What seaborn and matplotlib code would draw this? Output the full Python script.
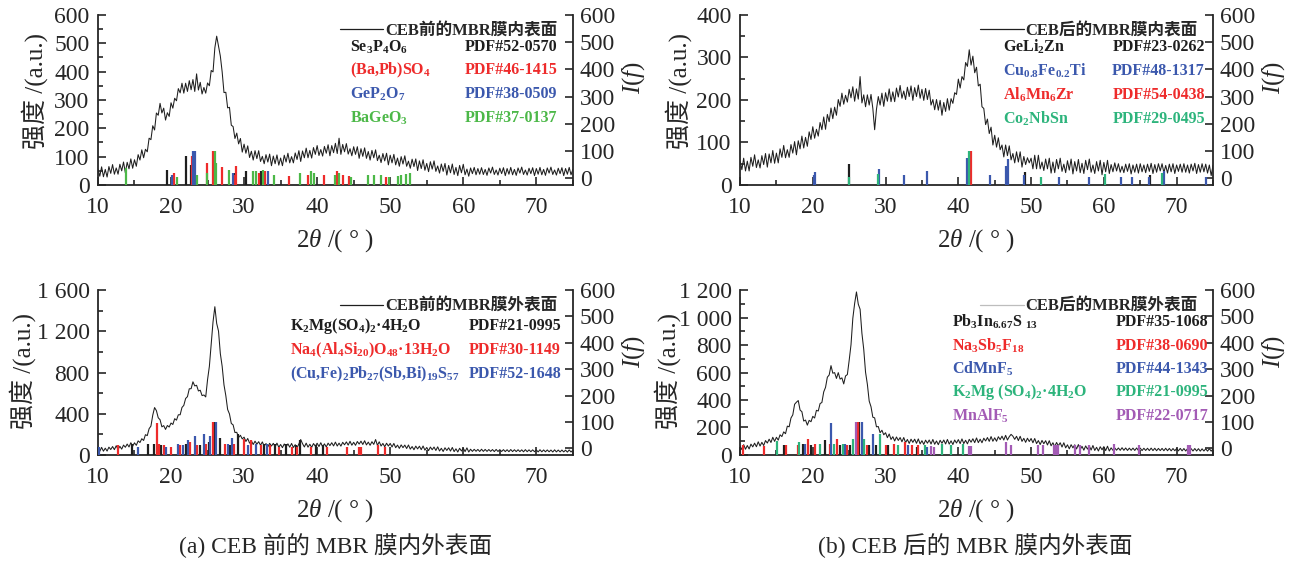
import numpy as np
import matplotlib
matplotlib.use('Agg')
import matplotlib.pyplot as plt
from matplotlib.lines import Line2D
from matplotlib.ticker import MultipleLocator, FuncFormatter
import seaborn as sns

# 2theta grid of the scans (deg)
two_theta = np.arange(10, 75.001, 0.25)

# intensities, one row per degree (x.00 x.25 x.50 x.75)
inner_before = [
    56, 31, 64, 29,  55, 28, 65, 41,  72, 38, 60, 38,  73, 50, 81, 43,
    80, 57, 92, 59,  89, 66, 107, 88,  124, 96, 126, 117,  165, 160, 209, 194,
    254, 246, 288, 254,  271, 229, 255, 242,  290, 271, 306, 297,  340, 325, 359, 324,
    359, 330, 368, 336,  372, 330, 392, 335,  362, 321, 344, 324,  360, 350, 404, 399,
    484, 525, 490, 455,  399, 326, 327, 272,  274, 211, 206, 164,  183, 145, 164, 116,
    144, 112, 138, 97,  119, 88, 121, 93,  121, 83, 101, 75,  107, 81, 109, 68,
    102, 75, 106, 70,  95, 68, 105, 81,  112, 78, 100, 78,  113, 90, 121, 83,
    120, 96, 130, 96,  122, 95, 132, 108,  139, 104, 125, 102,  136, 112, 142, 103,
    139, 114, 147, 111,  165, 108, 143, 117,  146, 109, 128, 103,  135, 108, 135, 94,
    128, 101, 131, 94,  118, 88, 122, 96,  124, 86, 105, 79,  111, 85, 112, 71,
    105, 78, 108, 71,  95, 66, 100, 74,  103, 66, 84, 59,  91, 65, 92, 51,
    85, 58, 89, 52,  76, 47, 82, 56,  85, 48, 67, 42,  74, 48, 76, 35,
    69, 43, 74, 37,  62, 33, 69, 43,  73, 36, 56, 31,  60, 40, 62, 36,
    58, 38, 61, 37,  55, 34, 60, 42,  63, 37, 53, 35,  59, 40, 61, 33,
    58, 38, 62, 36,  55, 34, 60, 42,  63, 37, 53, 35,  59, 40, 61, 33,
    58, 38, 62, 36,  55, 34, 60, 42,  63, 37, 53, 35,  59, 40, 61, 33,
    58, 38, 62, 36,  55]

inner_after = [
    57, 36, 63, 33,  56, 33, 65, 44,  71, 41, 59, 40,  69, 48, 74, 42,
    73, 52, 81, 51,  75, 52, 85, 65,  93, 64, 83, 65,  95, 75, 102, 71,
    104, 85, 115, 87,  112, 91, 125, 107,  137, 110, 131, 115,  147, 130, 160, 131,
    166, 149, 181, 156,  183, 164, 201, 185,  216, 190, 211, 195,  225, 205, 231, 197,
    226, 202, 255, 193,  212, 184, 212, 188,  213, 180, 130, 178,  208, 188, 216, 185,
    217, 197, 226, 196,  219, 196, 228, 207,  234, 204, 221, 201,  230, 208, 233, 199,
    229, 208, 235, 204,  225, 199, 227, 201,  223, 188, 201, 177,  201, 176, 199, 164,
    194, 173, 203, 176,  203, 192, 217, 213,  249, 228, 255, 247,  288, 279, 318, 282,
    303, 264, 277, 233,  237, 184, 180, 142,  155, 121, 136, 94,  117, 89, 111, 83,
    94, 66, 94, 69,  92, 59, 74, 52,  78, 54, 78, 42,  67, 48, 64, 52,
    63, 38, 70, 38,  70, 38, 54, 34,  61, 38, 63, 28,  54, 29, 60, 38,
    63, 32, 49, 29,  57, 35, 61, 26,  55, 33, 60, 29,  51, 27, 58, 36,
    61, 30, 47, 27,  55, 33, 58, 24,  53, 31, 58, 27,  48, 31, 52, 33,
    50, 30, 44, 29,  49, 32, 50, 26,  47, 30, 49, 28,  50, 31, 47, 29,
    49, 32, 51, 27,  48, 30, 50, 33,  50, 29, 46, 28,  49, 31, 50, 27,
    47, 32, 49, 30,  50, 30, 47, 28,  49, 33, 51, 27,  48, 30, 50, 31,
    49, 28, 47, 22,  46]

outer_before = [
    66, 36, 74, 37,  66, 38, 76, 53,  82, 52, 90, 54,  84, 57, 96, 75,
    106, 78, 119, 85,  118, 94, 137, 121,  158, 141, 197, 188,  255, 280, 386, 460,
    430, 361, 342, 273,  285, 248, 286, 271,  310, 296, 352, 338,  390, 390, 461, 481,
    548, 566, 642, 643,  710, 670, 676, 621,  628, 576, 582, 563,  730, 860, 1076, 1291,
    1438, 1276, 1202, 983,  860, 680, 576, 441,  398, 306, 292, 218,  220, 170, 191, 156,
    173, 131, 160, 115,  137, 102, 134, 105,  129, 94, 127, 86,  111, 79, 113, 87,
    113, 80, 115, 75,  102, 71, 107, 81,  108, 76, 112, 73,  100, 70, 107, 150,
    110, 78, 115, 76,  104, 74, 111, 86,  114, 82, 119, 80,  108, 78, 115, 91,
    119, 88, 125, 87,  115, 86, 123, 99,  127, 96, 133, 95,  123, 94, 131, 106,
    134, 102, 138, 98,  125, 94, 129, 103,  150, 94, 128, 87,  112, 80, 114, 87,
    112, 78, 112, 71,  96, 64, 98, 71,  96, 63, 97, 57,  82, 51, 86, 59,
    85, 52, 87, 47,  73, 42, 77, 51,  77, 44, 79, 39,  65, 34, 70, 44,
    70, 38, 73, 33,  60, 29, 65, 39,  66, 33, 69, 29,  56, 35, 55, 36,
    54, 34, 56, 35,  54, 35, 53, 35,  53, 33, 54, 34,  52, 34, 52, 33,
    51, 32, 53, 33,  51, 33, 51, 33,  50, 31, 52, 32,  50, 32, 50, 32,
    49, 30, 51, 31,  49, 31, 49, 31,  48, 29, 50, 30,  48, 30, 48, 30,
    47, 28, 49, 29,  46]

outer_after = [
    66, 39, 75, 42,  69, 44, 79, 59,  86, 60, 96, 65,  92, 69, 105, 87,
    115, 91, 129, 99,  129, 108, 147, 134,  168, 155, 210, 205,  269, 292, 369, 384,
    396, 327, 315, 247,  254, 217, 252, 242,  281, 269, 325, 320,  374, 382, 459, 492,
    566, 582, 650, 595,  599, 557, 599, 552,  561, 517, 575, 585,  689, 802, 994, 1102,
    1186, 1097, 1060, 885,  769, 602, 514, 392,  351, 275, 270, 205,  207, 162, 180, 147,
    162, 126, 153, 113,  133, 102, 131, 106,  127, 96, 127, 90,  113, 84, 115, 92,
    115, 85, 117, 81,  104, 77, 108, 86,  109, 80, 113, 78,  102, 75, 107, 85,
    109, 80, 113, 79,  103, 76, 109, 87,  112, 83, 117, 83,  107, 81, 114, 93,
    118, 90, 124, 90,  115, 89, 122, 102,  127, 99, 134, 100,  125, 100, 133, 112,
    137, 109, 143, 109,  133, 150, 137, 114,  136, 105, 136, 99,  121, 92, 122, 98,
    120, 89, 120, 83,  105, 76, 106, 82,  104, 73, 104, 67,  89, 61, 91, 67,
    89, 58, 89, 52,  74, 45, 75, 52,  74, 44, 76, 40,  63, 35, 66, 43,
    66, 36, 69, 33,  56, 29, 60, 38,  61, 32, 64, 29,  52, 34, 51, 35,
    51, 34, 53, 34,  51, 33, 50, 34,  50, 33, 51, 33,  50, 32, 49, 33,
    49, 32, 50, 32,  49, 31, 48, 32,  48, 31, 49, 31,  48, 30, 47, 31,
    47, 30, 48, 30,  47, 29, 46, 30,  46, 29, 47, 29,  46, 28, 45, 29,
    45, 28, 46, 28,  44]

# reference cards: (positions in 2theta, relative intensity I(f))
se3p4o6 = ([19.5, 22.0, 22.8, 28.7, 30.3, 32.3], [30, 80, 50, 18, 25, 25])
bapbso4 = ([20.4, 22.9, 24.9, 25.8, 27.0, 28.6, 28.9, 32.0, 32.8, 36.2, 38.8, 40.9, 42.7, 43.5, 44.4, 49.4],
           [18, 80, 55, 100, 40, 12, 43, 18, 25, 9, 12, 12, 25, 12, 9, 6])
gep2o7 = ([20.2, 23.05, 23.3, 28.5, 33.3], [12, 100, 100, 20, 25])
bageo3 = ([13.8, 20.8, 23.6, 24.9, 26.0, 26.15, 27.9, 31.2, 31.6, 32.6, 34.1, 37.7, 39.2, 39.6, 42.5, 43.0,
           44.7, 46.9, 47.8, 48.7, 49.9, 51.1, 51.5, 52.2, 52.7],
          [37, 6, 12, 18, 100, 55, 30, 25, 25, 30, 12, 18, 25, 18, 12, 18, 6, 12, 12, 12, 6, 9, 12, 15, 18])

geli2zn = ([25.0, 49.1, 66.3], [51, 22, 12])
cufeti = ([20.2, 20.35, 29.1, 32.6, 35.7, 41.2, 44.3, 46.6, 46.8, 49.0, 53.9, 57.9, 62.4, 63.9, 66.2, 68.3, 74.0],
          [12, 22, 34, 12, 27, 73, 12, 43, 70, 12, 4, 4, 6, 4, 4, 25, 4])
al6mn6zr = ([41.75], [100])
co2nbsn = ([25.0, 29.0, 41.5, 51.3, 60.2, 68.0], [5, 16, 100, 6, 16, 18])

k2mg_a = ([14.7, 16.8, 17.7, 18.6, 22.0, 23.9, 25.2, 25.9, 26.7, 28.1, 29.1, 32.7, 34.2, 35.7, 37.1, 37.6, 39.9, 40.8],
          [18, 18, 18, 12, 18, 12, 24, 100, 39, 12, 55, 18, 18, 18, 12, 30, 12, 12])
na4alsi = ([12.7, 18.1, 18.3, 19.1, 20.0, 21.2, 22.6, 23.5, 24.8, 25.7, 27.4, 28.6, 30.0, 30.9, 32.3, 33.6,
            34.8, 36.5, 37.2, 39.1, 41.3, 44.1, 45.7, 46.0, 48.3, 49.3],
           [12, 95, 18, 12, 6, 12, 24, 12, 18, 100, 18, 18, 37, 30, 12, 12, 6, 6, 6, 6, 6, 6, 6, 6, 12, 6])
cufepb = ([10.2, 15.5, 19.3, 20.9, 21.6, 22.3, 23.3, 24.5, 25.4, 26.1, 27.8, 28.3, 30.6, 31.6, 33.1],
          [6, 6, 6, 18, 12, 30, 46, 55, 46, 100, 18, 39, 12, 18, 18])

pb3in = ([16.0, 18.6, 19.7, 21.7, 23.7, 25.1, 26.4, 27.7, 28.7, 30.4, 34.3],
         [12, 15, 12, 30, 12, 12, 100, 12, 12, 12, 6])
na3sb5f18 = ([10.4, 13.3, 16.3, 17.9, 19.3, 20.3, 22.3, 23.3, 24.7, 26.2, 27.4, 30.0, 31.2, 32.7, 33.7, 34.4],
             [12, 10, 12, 12, 34, 18, 15, 37, 12, 100, 12, 12, 18, 24, 12, 12])
cdmnf5 = ([18.9, 22.5, 24.4, 26.7, 28.3, 33.1, 35.7], [18, 95, 18, 100, 55, 12, 6])
k2mg_b = ([15.1, 18.1, 21.0, 22.9, 24.1, 25.5, 27.0, 29.3, 31.7, 35.4, 37.7, 39.0, 40.7],
          [27, 24, 18, 18, 18, 37, 37, 55, 12, 12, 18, 12, 18])
mnalf5 = ([26.0, 36.3, 36.6, 41.4, 41.7, 46.6, 47.3, 51.0, 51.7, 53.1, 53.4, 53.7, 56.0, 56.7, 58.0, 61.4,
           64.8, 71.6, 71.8],
          [100, 10, 6, 10, 10, 24, 12, 12, 12, 12, 12, 12, 12, 12, 12, 15, 12, 12, 12])

BLACK = '#1e1e1e'
RED = '#ee2b2b'
BLUE = '#3b58ad'
GREEN_A = '#4cb848'
GREEN_B = '#2db47c'
PURPLE = '#a35bb5'

sns.set_style('ticks')
plt.rcParams['font.family'] = ['Liberation Serif', 'Noto Sans CJK SC']
plt.rcParams['mathtext.fontset'] = 'custom'
plt.rcParams['mathtext.rm'] = 'Liberation Serif:bold'
plt.rcParams['mathtext.bf'] = 'Liberation Serif:bold'
plt.rcParams['mathtext.it'] = 'Liberation Serif:italic'

FS = 17
LEG = 11.5
fig = plt.figure(figsize=(12.94, 5.65), dpi=100)


def panel(rect, y, ymax, ymaj, ymin, title, legcolor, phases, name_x, code_x, rows, ylab_xy):
    ax = fig.add_axes(rect)
    sns.lineplot(x=two_theta, y=y, ax=ax, color=BLACK, lw=0.75, estimator=None)
    ax.set_xlim(10, 75)
    ax.set_ylim(0, ymax)
    ax.xaxis.set_major_locator(MultipleLocator(10))
    ax.xaxis.set_minor_locator(MultipleLocator(5))
    ax.yaxis.set_major_locator(MultipleLocator(ymaj))
    ax.yaxis.set_minor_locator(MultipleLocator(ymin))
    ax.yaxis.set_major_formatter(FuncFormatter(lambda v, p: f'{int(v):,}'.replace(',', ' ')))
    ax.tick_params(which='both', direction='in', width=1.2, labelsize=FS)
    ax.tick_params(which='major', length=6)
    ax.tick_params(which='minor', length=3.5)
    ax.tick_params(axis='x', pad=9)
    ax.tick_params(axis='y', pad=6)
    ax.set_xlabel(r'2$\theta$ /( ° )', fontsize=FS + 1, labelpad=6)
    ax.set_ylabel('强度 /(a.u.)', fontsize=FS + 1)
    ax.yaxis.set_label_coords(*ylab_xy)
    for s in ['top', 'right']:
        ax.spines[s].set_visible(False)
    for s in ['left', 'bottom']:
        ax.spines[s].set_linewidth(1.3)

    ax2 = ax.twinx()
    ax2.set_ylim(-25, 600)
    ax2.yaxis.set_major_locator(MultipleLocator(100))
    ax2.tick_params(direction='in', length=6, width=1.2, labelsize=FS, pad=5)
    ax2.set_ylabel(r'$I$($f$)', fontsize=FS + 1)
    ax2.yaxis.set_label_coords(1.10, 0.63)
    for s in ['top', 'left', 'bottom']:
        ax2.spines[s].set_visible(False)
    ax2.spines['right'].set_linewidth(1.3)

    for (pos, h), color, name, code in phases:
        ax2.vlines(pos, -25, h, colors=color, lw=1.6)

    ax.legend([Line2D([], [], color=legcolor, lw=0.9)], [title], loc='upper right',
              bbox_to_anchor=(0.985, 1.0), frameon=False, handlelength=2.6,
              handletextpad=0.1, borderaxespad=0.1,
              prop={'family': ['Liberation Serif', 'Noto Sans CJK SC'], 'weight': 'bold', 'size': LEG + 0.5})
    for ((pos, h), color, name, code), ry in zip(phases, rows):
        ax2.text(name_x, ry, name, transform=ax.transAxes, color=color, fontsize=LEG,
                 fontweight='bold', va='center', ha='left')
        ax2.text(code_x, ry, code, transform=ax.transAxes, color=color, fontsize=LEG,
                 fontweight='bold', va='center', ha='right')
    return ax


panel([0.0757, 0.6726, 0.367, 0.301], inner_before, 600, 100, 50, 'CEB前的MBR膜内表面', BLACK,
      [(se3p4o6, BLACK, r'Se$_3$P$_4$O$_6$', 'PDF#52-0570'),
       (bapbso4, RED, r'(Ba,Pb)SO$_4$', 'PDF#46-1415'),
       (gep2o7, BLUE, r'GeP$_2$O$_7$', 'PDF#38-0509'),
       (bageo3, GREEN_A, r'BaGeO$_3$', 'PDF#37-0137')],
      0.53, 0.968, [0.81, 0.675, 0.535, 0.395], (-0.105, 0.55))

panel([0.5719, 0.6726, 0.3655, 0.301], inner_after, 400, 100, 50, 'CEB后的MBR膜内表面', BLACK,
      [(geli2zn, BLACK, r'GeLi$_2$Zn', 'PDF#23-0262'),
       (cufeti, BLUE, r'Cu$_{0.8}$Fe$_{0.2}$Ti', 'PDF#48-1317'),
       (al6mn6zr, RED, r'Al$_6$Mn$_6$Zr', 'PDF#54-0438'),
       (co2nbsn, GREEN_B, r'Co$_2$NbSn', 'PDF#29-0495')],
      0.556, 0.983, [0.81, 0.67, 0.53, 0.39], (-0.102, 0.55))

panel([0.0757, 0.1947, 0.367, 0.292], outer_before, 1600, 400, 200, 'CEB前的MBR膜外表面', BLACK,
      [(k2mg_a, BLACK, r'K$_2$Mg(SO$_4$)$_2$·4H$_2$O', 'PDF#21-0995'),
       (na4alsi, RED, r'Na$_4$(Al$_4$Si$_{20}$)O$_{48}$·13H$_2$O', 'PDF#30-1149'),
       (cufepb, BLUE, r'(Cu,Fe)$_2$Pb$_{27}$(Sb,Bi)$_{19}$S$_{57}$', 'PDF#52-1648')],
      0.404, 0.975, [0.78, 0.636, 0.49], (-0.13, 0.51))

panel([0.5719, 0.1947, 0.3655, 0.292], outer_after, 1200, 200, 100, 'CEB后的MBR膜外表面', '#bdbdbd',
      [(pb3in, BLACK, r'Pb$_3$In$_{6.67}$S $_{13}$', 'PDF#35-1068'),
       (na3sb5f18, RED, r'Na$_3$Sb$_5$F$_{18}$', 'PDF#38-0690'),
       (cdmnf5, BLUE, r'CdMnF$_5$', 'PDF#44-1343'),
       (k2mg_b, GREEN_B, r'K$_2$Mg (SO$_4$)$_2$·4H$_2$O', 'PDF#21-0995'),
       (mnalf5, PURPLE, r'MnAlF$_5$', 'PDF#22-0717')],
      0.448, 0.99, [0.806, 0.66, 0.52, 0.38, 0.236], (-0.125, 0.51))

fig.text(0.259, 0.035, '(a) CEB 前的 MBR 膜内外表面', ha='center', va='center', fontsize=FS)
fig.text(0.754, 0.035, '(b) CEB 后的 MBR 膜内外表面', ha='center', va='center', fontsize=FS)

fig.savefig('out.png', dpi=100, facecolor='white')
